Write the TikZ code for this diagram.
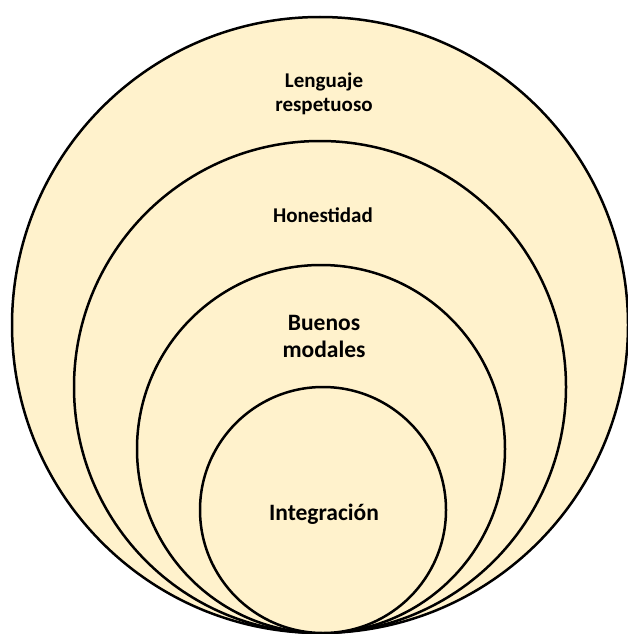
\documentclass[tikz,border=0pt]{standalone}
\usepackage{fontspec}
\setmainfont{Carlito}
\definecolor{cream}{HTML}{FFF2CC}
\tikzset{
  ring/.style={draw=black, fill=cream, line width=2.5pt},
  lbl/.style={font=\bfseries\fontsize{21}{24}\selectfont, align=center, text=black},
  lblbig/.style={font=\bfseries\fontsize{23.5}{27}\selectfont, align=center, text=black}
}
\begin{document}
\begin{tikzpicture}[x=1pt,y=-1pt]
\useasboundingbox (0,0) rectangle (628,634);
\begin{scope}
\clip (0,0) rectangle (628,634);
\draw[ring] (320,325) circle (308);
\draw[ring] (320,387) circle (246);
\draw[ring] (321,449) circle (184);
\draw[ring] (323,510) circle (123);
\end{scope}
\node[lbl] (lenguaje) at (324,94) {Lenguaje\\respetuoso};
\node[lbl] (honestidad) at (323,215) {Honestidad};
\node[lblbig] (buenos) at (324,336) {Buenos\\modales};
\node[lblbig] (integracion) at (324,514) {Integración};
\end{tikzpicture}
\end{document}
